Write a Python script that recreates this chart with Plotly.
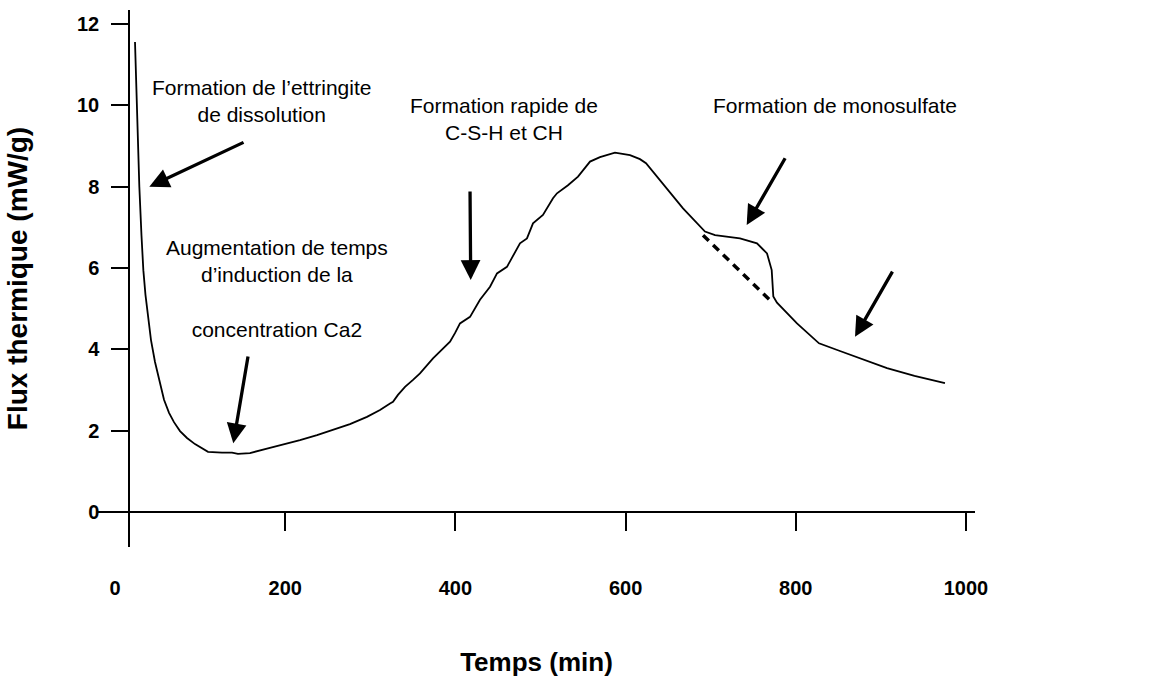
import plotly.graph_objects as go

# ---- data ----
time_min = [23.5, 26.2, 28.6, 31.1, 33.3, 35.8, 38.8, 42.3, 47.0, 51.7, 57.6, 63.5, 69.3, 76.4,
            84.6, 94.0, 102.2, 109.3, 125.7, 137.5, 144.5, 158.6, 178.6, 198.6, 217.4,
            237.4, 256.2, 276.1, 296.1, 311.4, 323.2, 326.7, 332.5, 340.8, 350.2, 358.4, 373.7,
            381.9, 393.7, 399.5, 405.4, 417.2, 428.9, 440.7, 448.9, 460.6, 475.9, 484.1, 491.2,
            502.9, 514.7, 519.4, 532.3, 544.1, 558.2, 569.9, 587.5, 605.2, 616.9, 624.0, 632.2,
            648.6, 667.5, 693.3, 705.1, 734.4, 754.4, 766.2, 771.7, 773.6, 777.9, 801.4, 827.3,
            851.9, 875.4, 907.2, 939.5, 975.3]
flux = [11.56, 9.64, 8.00, 6.81, 5.95, 5.34, 4.85, 4.23, 3.69, 3.25, 2.76, 2.44, 2.21, 1.99,
        1.82, 1.67, 1.57, 1.48, 1.46, 1.46, 1.43, 1.45, 1.56, 1.66, 1.77,
        1.89, 2.02, 2.16, 2.34, 2.51, 2.67, 2.71, 2.88, 3.08, 3.25, 3.41, 3.78,
        3.94, 4.19, 4.40, 4.64, 4.80, 5.22, 5.54, 5.87, 6.03, 6.61, 6.73, 7.10,
        7.31, 7.72, 7.84, 8.04, 8.25, 8.62, 8.73, 8.84, 8.78, 8.68, 8.58, 8.37,
        7.96, 7.47, 6.90, 6.81, 6.73, 6.61, 6.36, 5.95, 5.30, 5.15, 4.64, 4.15,
        3.96, 3.78, 3.54, 3.35, 3.17]

baseline_time = [691.0, 771.7]
baseline_flux = [6.81, 5.17]

x_ticks = [0, 200, 400, 600, 800, 1000]
x_tick_marks = [200, 400, 600, 800, 1000]
y_ticks = [0, 2, 4, 6, 8, 10, 12]

labels = [
    "Formation de l\u2019ettringite<br>de dissolution",
    "Formation rapide de<br>C-S-H et CH",
    "Augmentation de temps<br>d\u2019induction de la<br><br>concentration Ca2",
    "Formation de monosulfate",
    "R\u00e9actions- diffusion command\u00e9es",
]
label_time = [172.7, 457.1, 190.4, 846.1, 1028.2]
label_flux = [10.11, 9.67, 5.50, 9.99, 6.96]

arrow_tip_time = [40.3, 139.0, 418.0, 742.3, 869.6]
arrow_tip_flux = [8.00, 1.69, 5.71, 7.06, 4.31]
arrow_tail_time = [152.8, 156.6, 417.2, 788.5, 914.6]
arrow_tail_flux = [9.11, 3.86, 7.92, 8.74, 5.95]

FONT = "Liberation Sans, Arial, sans-serif"
X_RANGE = [-19.98, 1010.6]
Y_RANGE = [-0.861, 12.349]
X_AXIS_POS = 0.06518
Y_AXIS_POS = 0.03535

fig = go.Figure()
fig.add_trace(go.Scatter(x=time_min, y=flux, mode="lines",
                         line=dict(color="black", width=1.8), showlegend=False,
                         hoverinfo="skip"))
fig.add_trace(go.Scatter(x=baseline_time, y=baseline_flux, mode="lines", xaxis="x2",
                         line=dict(color="black", width=3.5, dash="8px,6px"),
                         showlegend=False, hoverinfo="skip"))

annotations = []
for t, x, y in zip(labels, label_time, label_flux):
    annotations.append(dict(text=t, x=x, y=y, xref="x", yref="y", showarrow=False,
                            font=dict(family=FONT, size=21, color="black"),
                            align="center"))
for x, y, ax, ay in zip(arrow_tip_time, arrow_tip_flux, arrow_tail_time, arrow_tail_flux):
    annotations.append(dict(text="", x=x, y=y, ax=ax, ay=ay, xref="x", yref="y",
                            axref="x", ayref="y", showarrow=True, arrowhead=2,
                            arrowsize=1.2, arrowwidth=3.3, arrowcolor="black",
                            standoff=0, startstandoff=0))

fig.update_layout(
    width=1169, height=681,
    margin=dict(l=98, r=194, t=10, b=134, autoexpand=False),
    paper_bgcolor="white", plot_bgcolor="white",
    annotations=annotations,
    xaxis=dict(
        range=X_RANGE, tickvals=x_ticks, ticks="",
        showline=True, linecolor="black", linewidth=1.5,
        showgrid=False, zeroline=False, anchor="free", position=X_AXIS_POS,
        ticklabelstandoff=58, automargin=False,
        tickfont=dict(family=FONT, size=20, color="black", weight="bold"),
        title=dict(text="Temps (min)", standoff=54,
                   font=dict(family=FONT, size=26, color="black", weight="bold")),
    ),
    xaxis2=dict(
        range=X_RANGE, overlaying="x", side="bottom", tickvals=x_tick_marks,
        ticks="outside", ticklen=18, tickwidth=1.5, tickcolor="black",
        showticklabels=False, showline=False, showgrid=False, zeroline=False,
        anchor="free", position=X_AXIS_POS, automargin=False,
    ),
    yaxis=dict(
        range=Y_RANGE, tickvals=y_ticks, ticks="outside", ticklen=17,
        tickwidth=1.5, tickcolor="black", showline=True, linecolor="black", linewidth=1.5,
        showgrid=False, zeroline=False, anchor="free", position=Y_AXIS_POS,
        ticklabelstandoff=8, automargin=False,
        tickfont=dict(family=FONT, size=20, color="black", weight="bold"),
        title=dict(text="Flux thermique (mW/g)", standoff=40,
                   font=dict(family=FONT, size=28, color="black", weight="bold")),
    ),
)

fig.write_html("out.html")
